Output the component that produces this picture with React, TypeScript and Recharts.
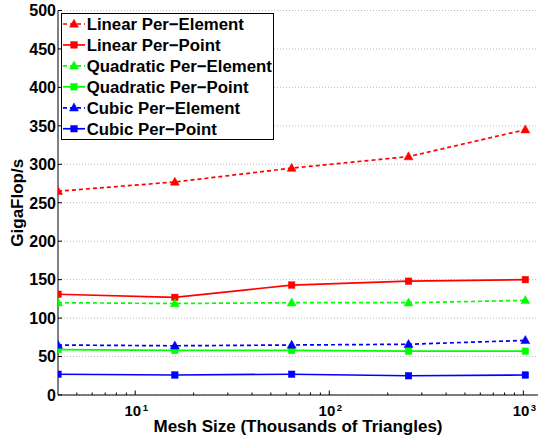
import React from 'react';
import { LineChart, Line, XAxis, YAxis, CartesianGrid, Legend, Label } from 'recharts';

// Mesh sizes in thousands of triangles
const meshSizes = [4, 16, 64, 256, 1024];

// GigaFlop/s for each method
const linearPerElement = [265, 277, 295, 310, 345];
const linearPerPoint = [131, 127, 143, 148, 150];
const quadraticPerElement = [120, 119, 120, 120, 123];
const quadraticPerPoint = [59, 58, 58, 57, 57];
const cubicPerElement = [65, 64, 65, 66, 71];
const cubicPerPoint = [27, 26, 27, 25, 26];

const yTicks = [0, 50, 100, 150, 200, 250, 300, 350, 400, 450, 500];
const xMajorTicks = [10, 100, 1000];
const xAllTicks = [5, 6, 7, 8, 9, 10, 20, 30, 40, 50, 60, 70, 80, 90, 100, 200, 300, 400, 500, 600, 700, 800, 900, 1000];

const data = meshSizes.map((m, i) => ({
  mesh: m,
  linearPerElement: linearPerElement[i],
  linearPerPoint: linearPerPoint[i],
  quadraticPerElement: quadraticPerElement[i],
  quadraticPerPoint: quadraticPerPoint[i],
  cubicPerElement: cubicPerElement[i],
  cubicPerPoint: cubicPerPoint[i],
}));

const FONT = '"Liberation Sans", Arial, Helvetica, sans-serif';

type SeriesDef = { key: string; name: string; color: string; dashed: boolean; marker: 'tri' | 'sq' };

const series: SeriesDef[] = [
  { key: 'linearPerElement', name: 'Linear Per\u2212Element', color: '#ff0000', dashed: true, marker: 'tri' },
  { key: 'linearPerPoint', name: 'Linear Per\u2212Point', color: '#ff0000', dashed: false, marker: 'sq' },
  { key: 'quadraticPerElement', name: 'Quadratic Per\u2212Element', color: '#00ff00', dashed: true, marker: 'tri' },
  { key: 'quadraticPerPoint', name: 'Quadratic Per\u2212Point', color: '#00ff00', dashed: false, marker: 'sq' },
  { key: 'cubicPerElement', name: 'Cubic Per\u2212Element', color: '#0000ff', dashed: true, marker: 'tri' },
  { key: 'cubicPerPoint', name: 'Cubic Per\u2212Point', color: '#0000ff', dashed: false, marker: 'sq' },
];

function Marker({ cx, cy, color, kind }: { cx: number; cy: number; color: string; kind: 'tri' | 'sq' }) {
  if (cx == null || cy == null) return null;
  if (kind === 'tri') {
    const h = 8;
    const w = 9;
    return (
      <polygon
        points={`${cx},${cy - h * 0.6} ${cx - w / 2},${cy + h * 0.4} ${cx + w / 2},${cy + h * 0.4}`}
        fill={color}
        stroke={color}
        strokeWidth={0.5}
      />
    );
  }
  const s = 6.5;
  return <rect x={cx - s / 2} y={cy - s / 2} width={s} height={s} fill={color} stroke={color} strokeWidth={0.5} />;
}

function XTick(props: any) {
  const { x, y, payload } = props;
  const v = payload.value;
  const major = xMajorTicks.includes(v);
  const exp = Math.round(Math.log10(v));
  return (
    <g>
      <line x1={x} y1={y} x2={x} y2={y - (major ? 4.5 : 2.5)} stroke="#000" strokeWidth={1} />
      {major && (
        <g fontFamily={FONT} fontWeight="bold" fill="#000">
          <text x={x + 6} y={y + 20.5} textAnchor="end" fontSize={15}>10</text>
          <text x={x + 7.5} y={y + 15.5} textAnchor="start" fontSize={9.5}>{exp}</text>
        </g>
      )}
    </g>
  );
}

function YTick(props: any) {
  const { x, y, payload } = props;
  return (
    <g>
      <line x1={x} y1={y} x2={x + 4} y2={y} stroke="#000" strokeWidth={1} />
      <text x={x - 2} y={y + 5.8} textAnchor="end" fontSize={16} fontFamily={FONT} fontWeight="bold" fill="#000">
        {payload.value}
      </text>
    </g>
  );
}

function YTitle(props: any) {
  const vb = props.viewBox || {};
  const cx = (vb.x ?? 0) + 17.5;
  const cy = (vb.y ?? 0) + (vb.height ?? 0) / 2;
  return (
    <text
      x={cx}
      y={cy}
      transform={`rotate(-90 ${cx} ${cy})`}
      textAnchor="middle"
      dominantBaseline="central"
      fontSize={17}
      fontFamily={FONT}
      fontWeight="bold"
      fill="#000"
    >
      GigaFlop/s
    </text>
  );
}

function XTitle(props: any) {
  const vb = props.viewBox || {};
  const cx = (vb.x ?? 0) + (vb.width ?? 0) / 2;
  const by = (vb.y ?? 0) + 37;
  return (
    <text x={cx} y={by} textAnchor="middle" fontSize={17} fontFamily={FONT} fontWeight="bold" fill="#000">
      Mesh Size (Thousands of Triangles)
    </text>
  );
}

function LegendBox() {
  const w = 213;
  const h = 127;
  return (
    <svg width={w} height={h} style={{ display: 'block' }}>
      <rect x={0.5} y={0.5} width={w - 1} height={h - 1} fill="#fff" stroke="#000" strokeWidth={1} />
      {series.map((s, i) => {
        const cy = 11 + i * 20.95;
        return (
          <g key={s.key}>
            <line
              x1={2}
              y1={cy}
              x2={24}
              y2={cy}
              stroke={s.color}
              strokeWidth={1.7}
              strokeDasharray={s.dashed ? '4 3' : undefined}
            />
            <Marker cx={13} cy={cy} color={s.color} kind={s.marker} />
            <text x={25.7} y={cy + 6} fontSize={16.8} fontFamily={FONT} fontWeight="bold" fill="#000">
              {s.name}
            </text>
          </g>
        );
      })}
    </svg>
  );
}

export default function App() {
  return (
    <div style={{ position: 'absolute', left: 0, top: 0, width: 538, height: 439, background: '#fff' }}>
      <LineChart width={538} height={439} data={data} margin={{ top: 10.5, right: 0, bottom: 0, left: 0 }}>
        <CartesianGrid horizontal vertical={false} stroke="#bdbdbd" strokeDasharray="1 2" />
        <XAxis
          dataKey="mesh"
          type="number"
          scale="log"
          domain={[4, 1190]}
          allowDataOverflow
          ticks={xAllTicks}
          interval={0}
          tick={<XTick />}
          tickLine={false}
          tickSize={0}
          tickMargin={0}
          height={44}
          axisLine={{ stroke: '#000', strokeWidth: 1 }}
        >
          <Label content={<XTitle />} />
        </XAxis>
        <YAxis
          type="number"
          domain={[0, 500]}
          ticks={yTicks}
          interval={0}
          tick={<YTick />}
          tickLine={false}
          tickSize={0}
          tickMargin={0}
          width={58}
          axisLine={{ stroke: '#000', strokeWidth: 1 }}
        >
          <Label content={<YTitle />} />
        </YAxis>
        <Legend
          layout="vertical"
          align="center"
          verticalAlign="middle"
          content={() => <LegendBox />}
          wrapperStyle={{ position: 'absolute', left: 61, top: 13, width: 213, height: 127 }}
        />
        {series.map((s) => (
          <Line
            key={s.key}
            dataKey={s.key}
            name={s.name}
            type="linear"
            stroke={s.color}
            strokeWidth={1.7}
            strokeDasharray={s.dashed ? '4 3' : undefined}
            isAnimationActive={false}
            dot={(p: any) => <Marker key={`${s.key}-${p.index}`} cx={p.cx} cy={p.cy} color={s.color} kind={s.marker} />}
            activeDot={false}
          />
        ))}
      </LineChart>
    </div>
  );
}
